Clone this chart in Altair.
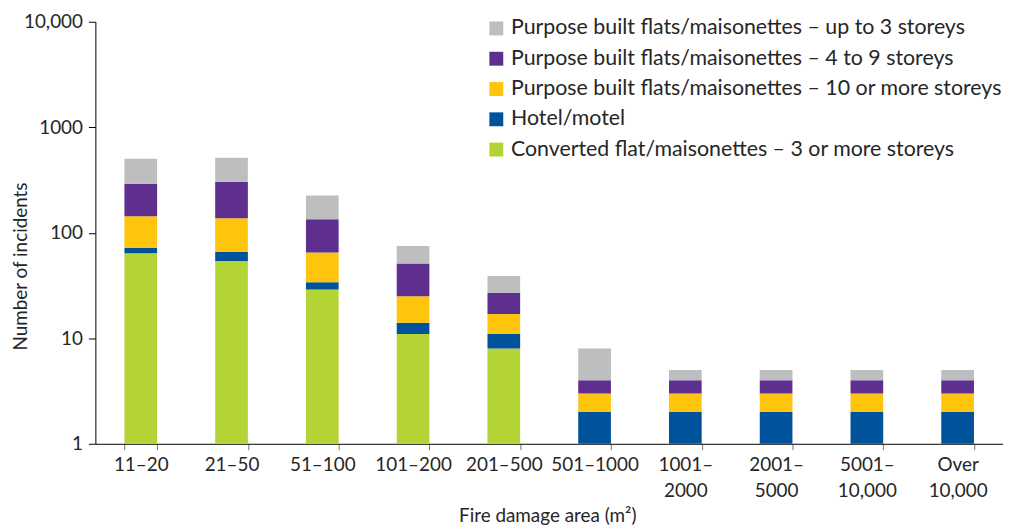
import altair as alt
import pandas as pd

categories = ["11–20", "21–50", "51–100", "101–200", "201–500", "501–1000",
              "1001–|2000", "2001–|5000", "5001–|10,000", "Over|10,000"]

series = [
    "Purpose built flats/maisonettes – up to 3 storeys",
    "Purpose built flats/maisonettes – 4 to 9 storeys",
    "Purpose built flats/maisonettes – 10 or more storeys",
    "Hotel/motel",
    "Converted flat/maisonettes – 3 or more storeys",
]
colors = ["#BDBEC0", "#5F2F8F", "#FFC50D", "#00529B", "#B4D335"]

up_to_3 = [210, 209, 91, 24, 12, 4, 1, 1, 1, 1]
four_to_9 = [149, 168, 69, 26, 10, 1, 1, 1, 1, 1]
ten_plus = [71, 71, 31, 11, 6, 1, 1, 1, 1, 1]
hotel = [8, 12, 5, 3, 3, 2, 2, 2, 2, 2]
converted = [64, 54, 29, 11, 8, 0, 0, 0, 0, 0]

values = [up_to_3, four_to_9, ten_plus, hotel, converted]
stack_order = [4, 3, 2, 1, 0]  # bottom = converted

rows = []
for s, vals, o in zip(series, values, stack_order):
    for c, v in zip(categories, vals):
        rows.append({"category": c, "series": s, "value": v, "order": o})
df = pd.DataFrame(rows)

FONT = "Lato"
TXT = "#262626"

chart = (
    alt.Chart(df)
    .transform_stack(
        stack="value",
        groupby=["category"],
        as_=["v0", "v1"],
        sort=[alt.SortField("order", order="ascending")],
    )
    .transform_filter("datum.value > 0")
    .transform_calculate(lo="max(datum.v0, 1)")
    .mark_bar()
    .encode(
        x=alt.X(
            "category:N",
            sort=categories,
            scale=alt.Scale(paddingInner=0.64, paddingOuter=0.32),
            axis=alt.Axis(
                title="Fire damage area (m²)",
                labelAngle=0,
                labelExpr="split(datum.label, '|')",
                labelLineHeight=26,
                labelFontSize=19,
                labelColor=TXT,
                labelFont=FONT,
                labelPadding=6,
                labelBaseline="top",
                tickBand="extent",
                tickSize=6,
                tickColor="#777777",
                domainColor="#000000",
                titleFontSize=19,
                titleFont=FONT,
                titleFontWeight="normal",
                titleColor=TXT,
                titleX=455,
                titleY=72,
                titleBaseline="middle",
            ),
        ),
        y=alt.Y(
            "lo:Q",
            scale=alt.Scale(type="log", domain=[1, 10000], nice=False, clamp=True),
            axis=alt.Axis(
                title="Number of incidents",
                values=[1, 10, 100, 1000, 10000],
                labelExpr="datum.value == 10000 ? '10,000' : format(datum.value, 'd')",
                grid=False,
                tickSize=7,
                tickColor="#000000",
                domainColor="#000000",
                labelFontSize=19,
                labelColor=TXT,
                labelFont=FONT,
                labelPadding=6,
                titleFontSize=19,
                titleFont=FONT,
                titleFontWeight="normal",
                titleColor=TXT,
                titleX=-75,
                titleY=246,
                titleAngle=-90,
                titleAlign="center",
                titleBaseline="middle",
            ),
        ),
        y2="v1:Q",
        color=alt.Color(
            "series:N",
            scale=alt.Scale(domain=series, range=colors),
            legend=alt.Legend(
                title=None,
                orient="none",
                legendX=393,
                legendY=-4,
                padding=0,
                symbolType="square",
                symbolSize=196,
                symbolStrokeWidth=0,
                labelFontSize=21.5,
                labelFont=FONT,
                labelColor=TXT,
                labelOffset=4,
                rowPadding=7.5,
                labelLimit=700,
            ),
        ),
        order=alt.Order("order:Q"),
    )
    .properties(
        width=914,
        height=425,
        padding={"left": 88, "top": 12, "right": 0, "bottom": 86},
        autosize=alt.AutoSizeParams(type="none"),
    )
    .configure_view(stroke=None)
)

chart.save("out.html", embed_options={"renderer": "svg", "actions": False})
